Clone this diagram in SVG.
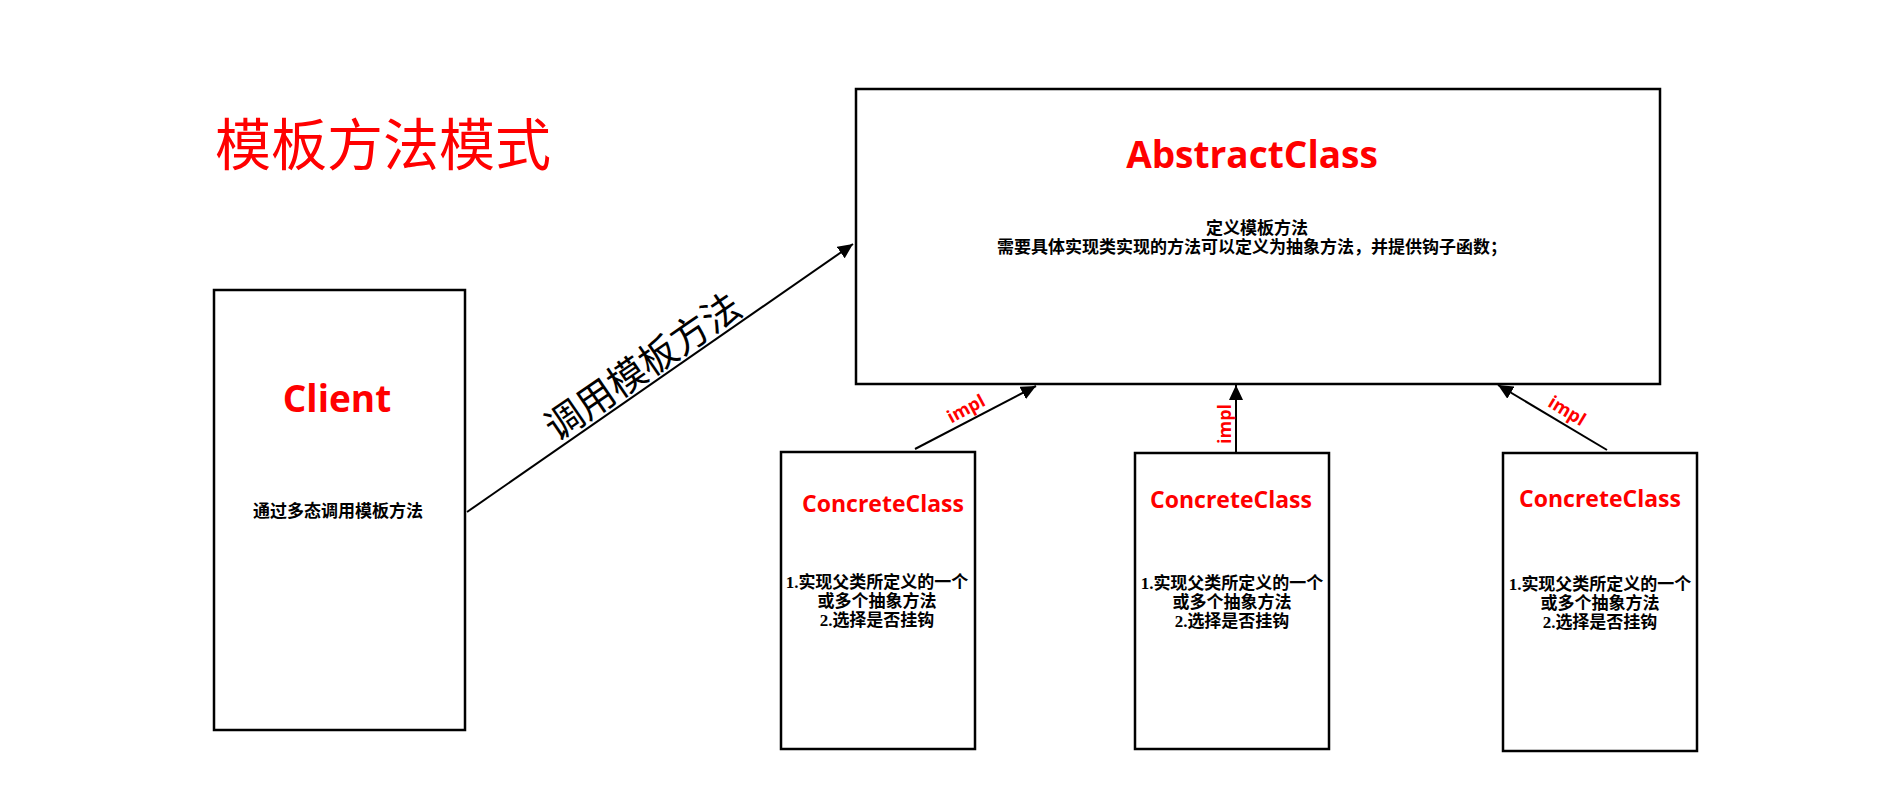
<svg xmlns="http://www.w3.org/2000/svg" width="1893" height="804" viewBox="0 0 1893 804">
<style>
.box{fill:#fff;stroke:#000;stroke-width:2.5}
.ttl{font-family:"Open Sans","DejaVu Sans",sans-serif;font-weight:bold;fill:#f00;text-anchor:middle}
.body{font-family:"Liberation Serif","Noto Sans CJK SC",serif;font-weight:bold;font-size:17px;fill:#000;text-anchor:middle}
.conn{stroke:#000;stroke-width:2;fill:none}
.impl{font-family:"Open Sans","DejaVu Sans",sans-serif;font-weight:bold;font-size:18px;fill:#f00;text-anchor:middle}
</style>
<defs>
<marker id="ah" markerUnits="userSpaceOnUse" markerWidth="16" markerHeight="14" refX="15" refY="7" orient="auto">
<path d="M0,0 L15,7 L0,14 z" fill="#000"/>
</marker>
</defs>
<rect width="1893" height="804" fill="#fff"/>
<text x="383" y="165" font-family="Liberation Serif,Noto Sans CJK SC,serif" font-size="56" fill="#f00" text-anchor="middle">模板方法模式</text>

<g id="client">
<rect class="box" x="214" y="290" width="251" height="440"/>
<text class="ttl" x="337" y="412" font-size="37">Client</text>
<text class="body" x="338" y="517">通过多态调用模板方法</text>
</g>

<g id="abstract">
<rect class="box" x="856" y="89" width="804" height="295"/>
<text class="ttl" x="1252" y="168" font-size="37">AbstractClass</text>
<text class="body" x="1257" y="234">定义模板方法</text>
<text class="body" x="1252" y="253">需要具体实现类实现的方法可以定义为抽象方法，并提供钩子函数；</text>
</g>

<g id="concrete1">
<rect class="box" x="781" y="452" width="194" height="297"/>
<text class="ttl" x="883" y="512" font-size="23">ConcreteClass</text>
<text class="body" x="877" y="588">1.实现父类所定义的一个</text>
<text class="body" x="877" y="607">或多个抽象方法</text>
<text class="body" x="877" y="626">2.选择是否挂钩</text>
</g>

<g id="concrete2">
<rect class="box" x="1135" y="453" width="194" height="296"/>
<text class="ttl" x="1231" y="508" font-size="23">ConcreteClass</text>
<text class="body" x="1232" y="589">1.实现父类所定义的一个</text>
<text class="body" x="1232" y="608">或多个抽象方法</text>
<text class="body" x="1232" y="627">2.选择是否挂钩</text>
</g>

<g id="concrete3">
<rect class="box" x="1503" y="453" width="194" height="298"/>
<text class="ttl" x="1600" y="507" font-size="23">ConcreteClass</text>
<text class="body" x="1600" y="590">1.实现父类所定义的一个</text>
<text class="body" x="1600" y="609">或多个抽象方法</text>
<text class="body" x="1600" y="628">2.选择是否挂钩</text>
</g>

<g id="connectors">
<line class="conn" x1="467" y1="512" x2="853" y2="244" marker-end="url(#ah)"/>
<text transform="translate(643,367) rotate(-34.5)" y="13" font-family="Liberation Serif,Noto Sans CJK SC,serif" font-size="38" fill="#000" text-anchor="middle">调用模板方法</text>

<line class="conn" x1="915" y1="449" x2="1036" y2="386" marker-end="url(#ah)"/>
<text class="impl" transform="translate(966,409) rotate(-28)" y="6">impl</text>

<line class="conn" x1="1236" y1="453" x2="1236" y2="385" marker-end="url(#ah)"/>
<text class="impl" transform="translate(1225,424) rotate(-90)" y="6">impl</text>

<line class="conn" x1="1607" y1="450" x2="1498" y2="385" marker-end="url(#ah)"/>
<text class="impl" transform="translate(1567,411) rotate(31)" y="6">impl</text>
</g>
</svg>
